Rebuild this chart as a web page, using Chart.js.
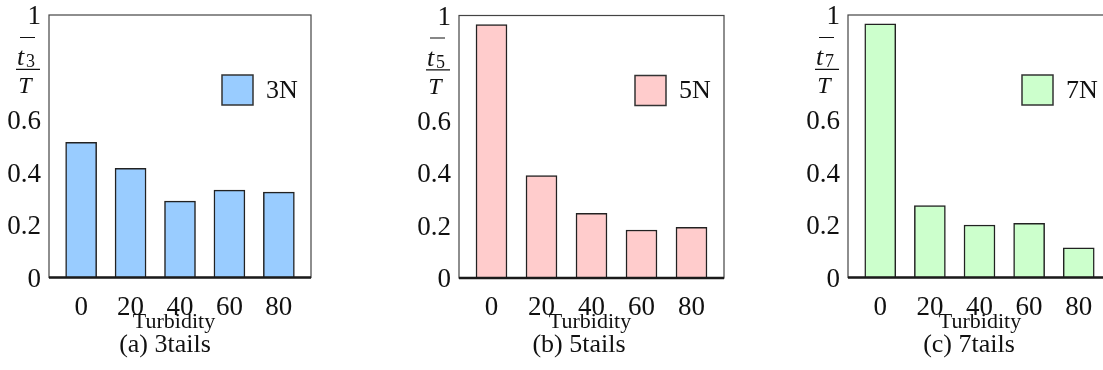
<!DOCTYPE html>
<html>
<head>
<meta charset="utf-8">
<script src="https://cdn.jsdelivr.net/npm/chart.js@4.4.1/dist/chart.umd.min.js"></script>
<style>
  html, body { margin: 0; padding: 0; background: #fff; overflow: hidden; width: 1103px; height: 370px; }
  canvas { position: absolute; top: 0; }
</style>
</head>
<body>
<canvas id="chartA" width="400" height="370" style="left:0px"></canvas>
<canvas id="chartB" width="400" height="370" style="left:410px"></canvas>
<canvas id="chartC" width="400" height="370" style="left:799px"></canvas>
<script>
// ---- data ----
const turbidity = [0, 20, 40, 60, 80];
const xTickLabels = ["0", "20", "40", "60", "80"];
const yTickValues = [0, 0.2, 0.4, 0.6, 0.8, 1];
const yTickLabels = ["0", "0.2", "0.4", "0.6", "", "1"];

const ratio3N = [0.515, 0.416, 0.291, 0.333, 0.325];
const ratio5N = [0.965, 0.390, 0.246, 0.183, 0.193];
const ratio7N = [0.966, 0.274, 0.200, 0.206, 0.113];

const seriesLabels = ["3N", "5N", "7N"];
const captions = ["(a) 3tails", "(b) 5tails", "(c) 7tails"];
const subscripts = ["3", "5", "7"];

const SERIF = "'Liberation Serif', 'Times New Roman', serif";

// frame, legend, fraction label and captions
const panelDecor = {
  id: "panelDecor",
  afterDatasetsDraw(chart, args, opts) {
    const { ctx, chartArea: a } = chart;
    const y = chart.scales.y;
    ctx.save();

    ctx.strokeStyle = "#444";
    ctx.lineWidth = 1.2;
    ctx.strokeRect(a.left, a.top, a.right - a.left, a.bottom - a.top);
    ctx.strokeStyle = "#1a1a1a";
    ctx.lineWidth = 2.5;
    ctx.beginPath();
    ctx.moveTo(a.left, a.bottom);
    ctx.lineTo(a.right, a.bottom);
    ctx.stroke();

    // legend
    const ds = chart.data.datasets[0];
    const lx = a.right - 89, ly = a.top + 60;
    ctx.fillStyle = ds.backgroundColor;
    ctx.fillRect(lx, ly, 31, 30);
    ctx.lineWidth = 1.5;
    ctx.strokeStyle = "#333";
    ctx.strokeRect(lx, ly, 31, 30);
    ctx.fillStyle = "#111";
    ctx.font = "26px " + SERIF;
    ctx.textAlign = "left";
    ctx.textBaseline = "middle";
    ctx.fillText(ds.label, a.right - 45, ly + 16);

    // y label as fraction at the 0.8 tick
    const y0 = y.getPixelForValue(0.8);
    const cx = a.left - 21;
    ctx.strokeStyle = "#111";
    ctx.lineWidth = 1.2;
    ctx.beginPath();
    ctx.moveTo(cx - 8, y0 - 30); ctx.lineTo(cx + 7, y0 - 30);
    ctx.moveTo(cx - 12, y0 + 1.8); ctx.lineTo(cx + 12, y0 + 1.8);
    ctx.stroke();
    ctx.textBaseline = "alphabetic";
    ctx.font = "italic 26px " + SERIF;
    ctx.fillText("t", cx - 11, y0 - 2.5);
    ctx.font = "18px " + SERIF;
    ctx.fillText(opts.sub, cx - 2, y0 - 0.5);
    ctx.font = "italic 24px " + SERIF;
    ctx.textAlign = "center";
    ctx.fillText("T", cx - 3, y0 + 25.8);

    // axis title and caption
    ctx.textBaseline = "middle";
    ctx.font = "22px " + SERIF;
    ctx.fillText("Turbidity", a.left + opts.titleDx, 322);
    ctx.font = "26px " + SERIF;
    ctx.fillText(opts.caption, a.left + opts.captionDx, 345);
    ctx.restore();
  }
};

function makePanel(canvasId, values, label, color, caption, sub, plotWidth, top, titleDx, captionDx) {
  return new Chart(document.getElementById(canvasId), {
    type: "bar",
    data: {
      datasets: [{
        label: label,
        data: turbidity.map((t, i) => ({ x: t, y: values[i] })),
        backgroundColor: color,
        borderColor: "#222",
        borderWidth: 1.5,
        barThickness: 31
      }]
    },
    options: {
      responsive: false,
      animation: false,
      layout: { padding: { top: top, left: 0, right: 400 - 49 - plotWidth, bottom: 0 } },
      plugins: {
        legend: { display: false },
        tooltip: { enabled: false },
        panelDecor: { caption: caption, sub: sub, titleDx: titleDx, captionDx: captionDx }
      },
      scales: {
        x: {
          type: "linear",
          min: -13,
          max: 93,
          offset: false,
          grid: { display: false, drawTicks: false },
          border: { display: false },
          afterBuildTicks: s => { s.ticks = turbidity.map(v => ({ value: v })); },
          afterFit: s => { s.height = 370 - top - 262.5; s.paddingLeft = 0; s.paddingRight = 0; },
          ticks: {
            padding: 14,
            color: "#111",
            font: { family: SERIF, size: 27 },
            callback: (v, i) => xTickLabels[i]
          }
        },
        y: {
          min: 0,
          max: 1,
          grid: { display: false, drawTicks: false },
          border: { display: false },
          afterBuildTicks: s => { s.ticks = yTickValues.map(v => ({ value: v })); },
          afterFit: s => { s.width = 49; s.paddingTop = 0; s.paddingBottom = 0; },
          ticks: {
            padding: 8,
            labelOffset: 2,
            color: "#111",
            font: { family: SERIF, size: 27 },
            callback: (v, i) => yTickLabels[i]
          }
        }
      }
    },
    plugins: [panelDecor]
  });
}

makePanel("chartA", ratio3N, seriesLabels[0], "#99ccff", captions[0], subscripts[0], 262, 15, 125, 116);
makePanel("chartB", ratio5N, seriesLabels[1], "#ffcccc", captions[1], subscripts[1], 265, 15.5, 131, 120);
makePanel("chartC", ratio7N, seriesLabels[2], "#ccffcc", captions[2], subscripts[2], 263, 15, 132, 121);
</script>
</body>
</html>
